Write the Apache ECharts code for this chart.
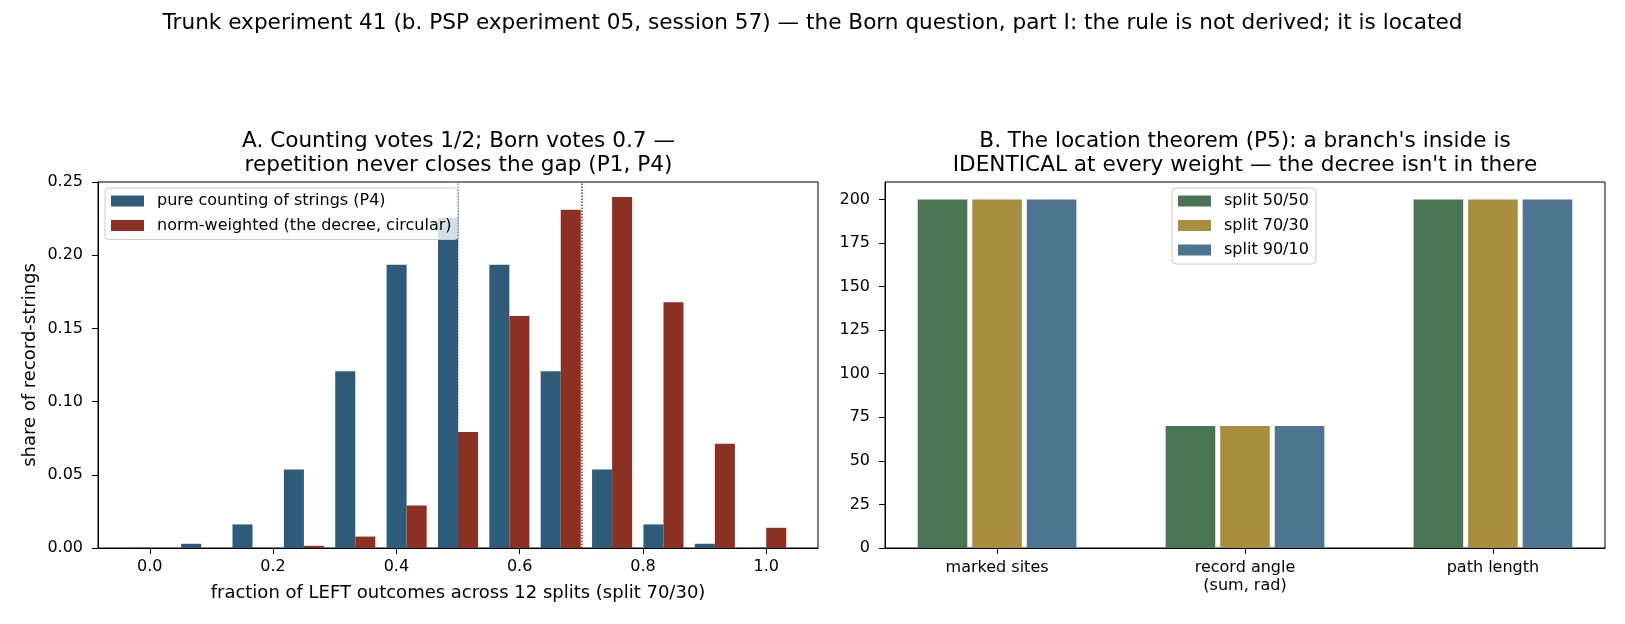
<!DOCTYPE html>
<html>
<head>
<meta charset="utf-8">
<script src="https://cdn.jsdelivr.net/npm/echarts@6/dist/echarts.min.js"></script>
<style>
html, body { margin: 0; padding: 0; background: #fff; }
#container { width: 1625px; height: 624px; }
</style>
</head>
<body>
<div id="container"></div>
<script>
// panel A: share of record-strings per number of LEFT outcomes (out of 12 splits)
const nSplits = 12
const leftCounts = [0, 1, 2, 3, 4, 5, 6, 7, 8, 9, 10, 11, 12]
const countingShare = [0.0002, 0.0029, 0.0161, 0.0537, 0.1208, 0.1934, 0.2256, 0.1934, 0.1208, 0.0537, 0.0161, 0.0029, 0.0002]
const bornShare = [0.0000, 0.0000, 0.0002, 0.0015, 0.0078, 0.0291, 0.0792, 0.1585, 0.2311, 0.2397, 0.1678, 0.0712, 0.0138]
const countingVote = 0.5
const bornVote = 0.7
const fractionTicks = [0, 0.2, 0.4, 0.6, 0.8, 1.0]
const shareTicks = [0, 0.05, 0.1, 0.15, 0.2, 0.25]

// panel B: what a branch looks like from inside, per split weight
const features = ['marked sites', 'record angle\n(sum, rad)', 'path length']
const splitNames = ['split 50/50', 'split 70/30', 'split 90/10']
const split5050 = [200, 70, 200]
const split7030 = [200, 70, 200]
const split9010 = [200, 70, 200]
const countTicks = [0, 25, 50, 75, 100, 125, 150, 175, 200]

const font = 'DejaVu Sans'
const blue = '#2e5b7a'
const red = '#8b3022'
const splitColors = ['#4a7555', '#a88e3e', '#4e7590']

const barW = 0.0325      // panel A bar width (fraction units)
const groupW = 0.2       // panel B bar width (category units)
const groupStep = 0.22

function histBar(side) {
  // side -1: bar sits left of k/12, side 0: right of it
  return function (params, api) {
    const x0 = api.value(0) + side * barW
    const p0 = api.coord([x0, api.value(1)])
    const p1 = api.coord([x0 + barW, 0])
    return {
      type: 'rect',
      shape: { x: p0[0], y: p0[1], width: p1[0] - p0[0], height: p1[1] - p0[1] },
      style: { fill: api.visual('color') }
    }
  }
}

function groupBar(j) {
  return function (params, api) {
    const x0 = api.value(0) + (j - 1) * groupStep - groupW / 2
    const p0 = api.coord([x0, api.value(1)])
    const p1 = api.coord([x0 + groupW, 0])
    return {
      type: 'rect',
      shape: { x: p0[0], y: p0[1], width: p1[0] - p0[0], height: p1[1] - p0[1] },
      style: { fill: api.visual('color') }
    }
  }
}

const tickText = { fontFamily: font, fontSize: 16, color: '#000' }
const nameText = { fontFamily: font, fontSize: 18, color: '#000' }
const titleText = { fontFamily: font, fontSize: 21.6, fontWeight: 'normal', color: '#000', lineHeight: 24 }
const blackLine = { color: '#000', width: 1 }

let divEle = document.getElementById('container')
let chart = echarts.init(divEle, null, { renderer: 'canvas' })

const splitSeries = [split5050, split7030, split9010].map((vals, j) => ({
  name: splitNames[j],
  type: 'custom',
  xAxisIndex: 1,
  yAxisIndex: 1,
  renderItem: groupBar(j),
  itemStyle: { color: splitColors[j] },
  encode: { x: 0, y: 1 },
  data: vals.map((v, i) => [i, v])
}))

const legendBase = {
  orient: 'vertical', top: 188,
  itemWidth: 33, itemHeight: 11, itemGap: 8.5,
  padding: [5, 7, 6, 6],
  backgroundColor: 'rgba(255,255,255,0.8)', borderColor: '#cccccc', borderWidth: 1, borderRadius: 4,
  textStyle: { fontFamily: font, fontSize: 16, color: '#000', lineHeight: 16, padding: [0, 0, 0, 8] }
}

chart.setOption({
  animation: false,
  backgroundColor: '#fff',
  title: [
    {
      text: 'Trunk experiment 41 (b. PSP experiment 05, session 57) — the Born question, part I: the rule is not derived; it is located',
      left: 812.5, top: 11, textAlign: 'center', padding: 0,
      textStyle: titleText
    },
    {
      text: 'A. Counting votes 1/2; Born votes 0.7 —\nrepetition never closes the gap (P1, P4)',
      left: 458.5, top: 129, textAlign: 'center', padding: 0,
      textStyle: titleText
    },
    {
      text: "B. The location theorem (P5): a branch's inside is\nIDENTICAL at every weight — the decree isn't in there",
      left: 1245, top: 129, textAlign: 'center', padding: 0,
      textStyle: titleText
    }
  ],
  legend: [
    Object.assign({}, legendBase, {
      left: 105,
      data: [{ name: 'pure counting of strings (P4)', icon: 'rect' }, { name: 'norm-weighted (the decree, circular)', icon: 'rect' }]
    }),
    Object.assign({}, legendBase, {
      left: 1172,
      data: splitNames.map(n => ({ name: n, icon: 'rect' }))
    })
  ],
  grid: [
    { left: 98, top: 182, width: 720, height: 366, show: true, borderColor: '#000', borderWidth: 1, outerBoundsMode: 'none' },
    { left: 885, top: 182, width: 720, height: 366, show: true, borderColor: '#000', borderWidth: 1, outerBoundsMode: 'none' }
  ],
  xAxis: [
    {
      type: 'value', gridIndex: 0, min: -0.084, max: 1.084,
      splitLine: { show: false },
      axisLine: { onZero: false, lineStyle: blackLine },
      axisTick: { customValues: fractionTicks, length: 6, lineStyle: blackLine },
      axisLabel: { customValues: fractionTicks, formatter: v => v.toFixed(1), margin: 11, ...tickText },
      name: 'fraction of LEFT outcomes across 12 splits (split 70/30)',
      nameLocation: 'middle', nameGap: 36,
      nameTextStyle: nameText
    },
    {
      type: 'value', gridIndex: 1, min: -0.452, max: 2.452,
      splitLine: { show: false },
      axisLine: { onZero: false, lineStyle: blackLine },
      axisTick: { customValues: [0, 1, 2], length: 6, lineStyle: blackLine },
      axisLabel: { customValues: [0, 1, 2], formatter: v => features[Math.round(v)], margin: 11, lineHeight: 18, ...tickText }
    }
  ],
  yAxis: [
    {
      type: 'value', gridIndex: 0, min: 0, max: 0.25,
      splitLine: { show: false },
      axisLine: { show: true, onZero: false, lineStyle: blackLine },
      axisTick: { show: true, customValues: shareTicks, length: 6, lineStyle: blackLine },
      axisLabel: { customValues: shareTicks, formatter: v => v.toFixed(2), margin: 15, ...tickText },
      name: 'share of record-strings',
      nameLocation: 'middle', nameGap: 59,
      nameTextStyle: nameText
    },
    {
      type: 'value', gridIndex: 1, min: 0, max: 210,
      splitLine: { show: false },
      axisLine: { show: true, onZero: false, lineStyle: blackLine },
      axisTick: { show: true, customValues: countTicks, length: 6, lineStyle: blackLine },
      axisLabel: { customValues: countTicks, margin: 15, ...tickText }
    }
  ],
  series: [
    {
      name: 'pure counting of strings (P4)',
      type: 'custom',
      xAxisIndex: 0, yAxisIndex: 0,
      renderItem: histBar(-1),
      itemStyle: { color: blue },
      encode: { x: 0, y: 1 },
      data: leftCounts.map((k, i) => [k / nSplits, countingShare[i]]),
      markLine: {
        silent: true, symbol: 'none', label: { show: false },
        lineStyle: { color: 'rgba(46,91,122,0.55)', type: 'dotted', width: 1.5 },
        data: [{ xAxis: countingVote }]
      }
    },
    {
      name: 'norm-weighted (the decree, circular)',
      type: 'custom',
      xAxisIndex: 0, yAxisIndex: 0,
      renderItem: histBar(0),
      itemStyle: { color: red },
      encode: { x: 0, y: 1 },
      data: leftCounts.map((k, i) => [k / nSplits, bornShare[i]]),
      markLine: {
        silent: true, symbol: 'none', label: { show: false },
        lineStyle: { color: red, type: 'dotted', width: 1.5 },
        data: [{ xAxis: bornVote }]
      }
    },
    ...splitSeries
  ]
})
</script>
</body>
</html>
